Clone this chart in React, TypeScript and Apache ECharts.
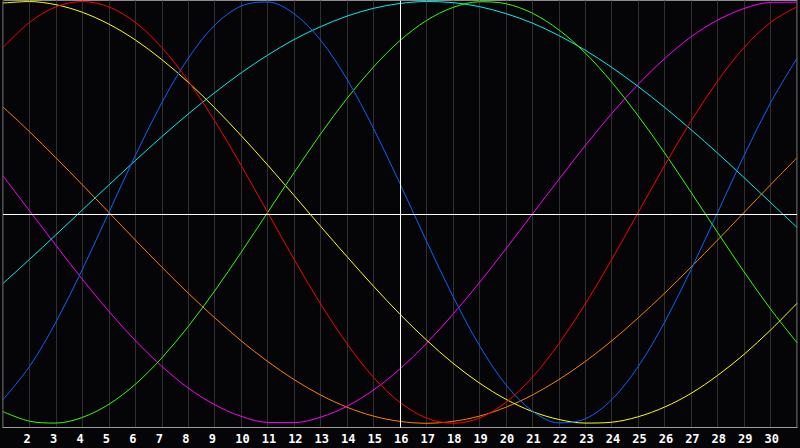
import React, { useEffect, useRef } from "react";
import * as echarts from "echarts";

const days = [1, 2, 3, 4, 5, 6, 7, 8, 9, 10, 11, 12, 13, 14, 15, 16, 17, 18, 19, 20, 21, 22, 23, 24, 25, 26, 27, 28, 29, 30, 31];
const tickLabels = ["2", "3", "4", "5", "6", "7", "8", "9", "10", "11", "12", "13", "14", "15", "16", "17", "18", "19", "20", "21", "22", "23", "24", "25", "26", "27", "28", "29", "30"];

const red = [78.2, 90.1, 97.5, 100, 97.5, 90.1, 78.2, 62.3, 43.4, 22.3, 0, -22.3, -43.4, -62.3, -78.2, -90.1, -97.5, -100, -97.5, -90.1, -78.2, -62.3, -43.4, -22.3, 0, 22.3, 43.4, 62.3, 78.2, 90.1, 97.5];
const blue = [-88.8, -73.1, -52.0, -27.0, 0, 27.0, 52.0, 73.1, 88.8, 97.9, 99.8, 94.2, 81.7, 63.1, 39.8, 13.6, -13.6, -39.8, -63.1, -81.7, -94.2, -99.8, -97.9, -88.8, -73.1, -52.0, -27.0, 0, 27.0, 52.0, 73.1];
const green = [-94.5, -99.0, -99.9, -97.2, -91.0, -81.5, -69.0, -54.1, -37.2, -18.9, 0, 18.9, 37.2, 54.1, 69.0, 81.5, 91.0, 97.2, 99.9, 99.0, 94.5, 86.6, 75.6, 61.8, 45.8, 28.2, 9.5, -9.5, -28.2, -45.8, -61.8];
const yellow = [99.3, 100.0, 98.5, 94.9, 89.3, 81.8, 72.5, 61.7, 49.6, 36.4, 22.5, 8.0, -6.6, -21.0, -35.0, -48.3, -60.5, -71.5, -80.9, -88.6, -94.4, -98.2, -99.9, -99.5, -96.9, -92.3, -85.8, -77.3, -67.3, -55.8, -43.1];
const cyan = [-33.7, -22.3, -10.6, 1.2, 13.0, 24.6, 35.9, 46.7, 56.8, 66.2, 74.6, 82.0, 88.1, 93.1, 96.8, 99.1, 100.0, 99.5, 97.6, 94.3, 89.8, 83.9, 76.9, 68.8, 59.7, 49.8, 39.2, 28.1, 16.5, 4.7, -7.1];
const orange = [50.0, 38.3, 25.9, 13.1, 0, -13.1, -25.9, -38.3, -50.0, -60.9, -70.7, -79.3, -86.6, -92.4, -96.6, -99.1, -100, -99.1, -96.6, -92.4, -86.6, -79.3, -70.7, -60.9, -50.0, -38.3, -25.9, -13.1, 0, 13.1, 25.9];
const magenta = [17.3, 0.8, -15.6, -31.7, -46.9, -60.8, -73.0, -83.3, -91.2, -96.7, -99.6, -99.7, -97.1, -91.9, -84.2, -74.2, -62.1, -48.3, -33.3, -17.3, -0.8, 15.6, 31.7, 46.9, 60.8, 73.0, 83.3, 91.2, 96.7, 99.6, 99.7];

const todayDay = 16;
const baseline = -0.7;

const curves = [
  { name: "orange", color: "#ff8000", values: orange },
  { name: "magenta", color: "#ff00ff", values: magenta },
  { name: "cyan", color: "#00f0f0", values: cyan },
  { name: "yellow", color: "#ffff00", values: yellow },
  { name: "green", color: "#33ff00", values: green },
  { name: "blue", color: "#0a64ff", values: blue },
  { name: "red", color: "#ff0000", values: red },
];

export default function App() {
  const ref = useRef<HTMLDivElement>(null);
  useEffect(() => {
    document.body.style.margin = "0";
    document.body.style.background = "#050508";
    const chart = echarts.init(ref.current!, null, { renderer: "svg" });
    const series: any[] = curves.map((c) => ({
      name: c.name,
      type: "line",
      data: days.map((d, i) => [d, c.values[i]]),
      smooth: 0.33,
      showSymbol: false,
      symbol: "none",
      lineStyle: { color: c.color, width: 1 },
      silent: true,
      z: 3,
    }));
    series.push({
      type: "line",
      data: [],
      z: 2,
      silent: true,
      markLine: {
        silent: true,
        symbol: "none",
        label: { show: false },
        lineStyle: { color: "#ffffff", width: 1, type: "solid" },
        data: [{ xAxis: todayDay }, { yAxis: baseline }],
      },
    });
    chart.setOption({
      animation: false,
      backgroundColor: "#050508",
      grid: {
        left: 0.5,
        right: -1,
        top: 0.5,
        bottom: 20.5,
        show: true,
        borderColor: "#8c8c8c",
        borderWidth: 1,
        backgroundColor: "transparent",
      },
      xAxis: {
        type: "value",
        min: 1,
        max: 31,
        interval: 1,
        axisLine: { show: true, onZero: false, lineStyle: { color: "#9a9a9a", width: 1 } },
        axisTick: { show: false },
        axisLabel: {
          color: "#ffffff",
          fontFamily: "DejaVu Sans Mono",
          fontWeight: "bold",
          fontSize: 12,
          margin: 5,
          align: "left",
          padding: [0, 0, 0, -6],
          formatter: (v: number) => (tickLabels.includes(String(v)) ? String(v) : ""),
        },
        splitLine: { show: true, lineStyle: { color: "#303030", width: 1 } },
      },
      yAxis: {
        type: "value",
        min: -102,
        max: 100.5,
        axisLine: { show: false },
        axisTick: { show: false },
        axisLabel: { show: false },
        splitLine: { show: false },
      },
      series,
    });
    return () => chart.dispose();
  }, []);
  return <div ref={ref} style={{ width: 800, height: 448 }} />;
}
